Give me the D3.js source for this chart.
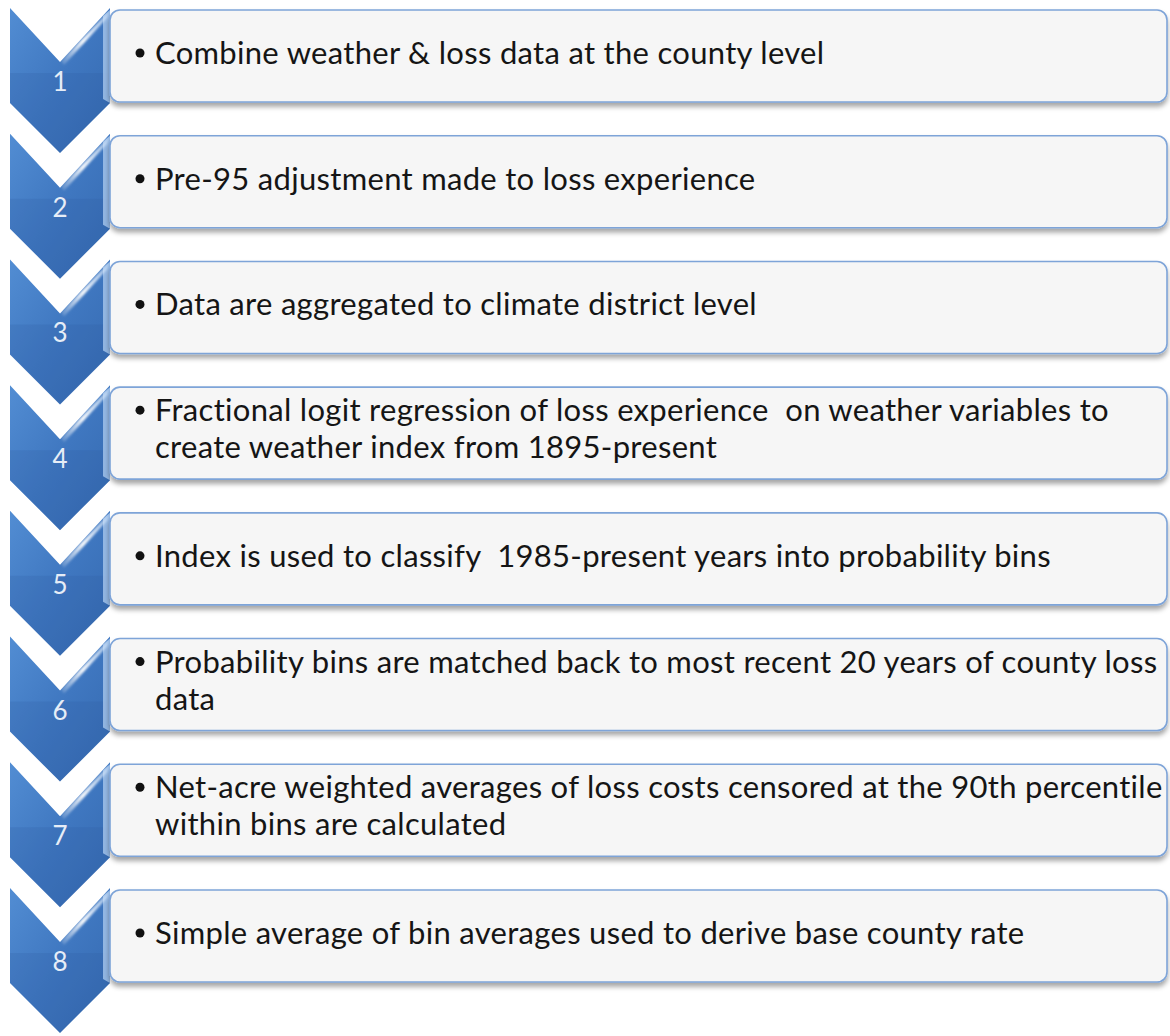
<!DOCTYPE html>
<html>
<head>
<meta charset="utf-8">
<script src="https://cdn.jsdelivr.net/npm/d3@7"></script>
<style>
  html, body { margin: 0; padding: 0; background: #fff; }
  svg { display: block; }
</style>
</head>
<body>
<div id="chart"></div>
<script>
// step numbers and the bullet text of each step (one entry per visual line)
const stepNumbers = ["1", "2", "3", "4", "5", "6", "7", "8"];
const stepLines = [
  ["Combine weather & loss data at the county level"],
  ["Pre-95 adjustment made to loss experience"],
  ["Data are aggregated to climate district level"],
  ["Fractional logit regression of loss experience  on weather variables to",
   "create weather index from 1895-present"],
  ["Index is used to classify  1985-present years into probability bins"],
  ["Probability bins are matched back to most recent 20 years of county loss",
   "data"],
  ["Net-acre weighted averages of loss costs censored at the 90th percentile",
   "within bins are calculated"],
  ["Simple average of bin averages used to derive base county rate"]
];

const width = 1170, height = 1036;

const svg = d3.select("#chart")
  .append("svg")
  .attr("width", width)
  .attr("height", height);

const defs = svg.append("defs");

// drop shadow under the text boxes
const shadow = defs.append("filter")
  .attr("id", "boxShadow")
  .attr("x", "-5%").attr("y", "-20%")
  .attr("width", "110%").attr("height", "150%");
shadow.append("feDropShadow")
  .attr("dx", 0).attr("dy", 4)
  .attr("stdDeviation", 2.5)
  .attr("flood-color", "#000")
  .attr("flood-opacity", 0.35);

// chevron body gradient
const bodyGrad = defs.append("linearGradient")
  .attr("id", "chevBody")
  .attr("x1", 0).attr("y1", 0).attr("x2", 1).attr("y2", 1);
bodyGrad.append("stop").attr("offset", "0%").attr("stop-color", "#528dd3");
bodyGrad.append("stop").attr("offset", "50%").attr("stop-color", "#3f77c0");
bodyGrad.append("stop").attr("offset", "100%").attr("stop-color", "#3468ae");

// bevel gleam along the notch
const gleam = defs.append("linearGradient")
  .attr("id", "gleam")
  .attr("x1", 0).attr("y1", 1).attr("x2", 1).attr("y2", 0);
gleam.append("stop").attr("offset", "0%").attr("stop-color", "#ffffff").attr("stop-opacity", 0.1);
gleam.append("stop").attr("offset", "45%").attr("stop-color", "#ffffff").attr("stop-opacity", 0.95);
gleam.append("stop").attr("offset", "100%").attr("stop-color", "#cfe3fa").attr("stop-opacity", 0.6);

const blur = defs.append("filter").attr("id", "soft");
blur.append("feGaussianBlur").attr("stdDeviation", 0.8);

// layout scales
const y = d3.scaleLinear().domain([0, stepNumbers.length - 1]).range([8, 888]);
const chevX = d3.scaleLinear().domain([0, 1]).range([10, 110]);
const chevMid = (chevX(0) + chevX(1)) / 2;
const notch = 54, side = 95, tip = 145;
const boxLeft = 110, boxRight = 1167, boxH = 92;
const fontSize = 31, lineH = 37;

const steps = stepNumbers.map((n, i) => ({ n, lines: stepLines[i], top: y(i) }));

// draw chevrons bottom-up so the upper ones sit above the lower ones
const chev = svg.append("g").selectAll("g")
  .data(steps.slice().reverse())
  .join("g")
  .attr("transform", d => `translate(0,${d.top})`);

chev.append("path")
  .attr("d", d3.line()([
    [chevX(0), 0], [chevMid, notch], [chevX(1), 0],
    [chevX(1), side], [chevMid, tip], [chevX(0), side]
  ]) + "Z")
  .attr("fill", "url(#chevBody)");

// darker lower half
chev.append("path")
  .attr("d", d3.line()([
    [chevX(0), side - 30], [chevX(1), side - 30], [chevX(1), side], [chevMid, tip], [chevX(0), side]
  ]) + "Z")
  .attr("fill", "#2d5c9e")
  .attr("opacity", 0.2);

// light strip along the right edge
chev.append("path")
  .attr("d", d3.line()([
    [chevX(1) - 7, 8], [chevX(1), 2], [chevX(1), side], [chevX(1) - 7, side - 4]
  ]) + "Z")
  .attr("fill", "#a9c8ee")
  .attr("opacity", 0.8);

// gleam along the inner notch edge
chev.append("path")
  .attr("d", d3.line()([
    [chevMid + 1, notch - 1], [chevX(1) - 1, 3], [chevX(1) - 3, 10], [chevMid + 4, notch + 3]
  ]) + "Z")
  .attr("fill", "url(#gleam)")
  .attr("filter", "url(#soft)");

chev.append("text")
  .attr("x", chevMid)
  .attr("y", 83)
  .attr("text-anchor", "middle")
  .attr("font-family", "Lato, 'Open Sans', sans-serif")
  .attr("font-size", 26)
  .attr("fill", "#e6edf7")
  .text(d => d.n);

// text boxes
const box = svg.append("g").selectAll("g")
  .data(steps)
  .join("g")
  .attr("transform", d => `translate(0,${d.top + 2})`);

box.append("rect")
  .attr("x", boxLeft)
  .attr("y", 0)
  .attr("width", boxRight - boxLeft)
  .attr("height", boxH)
  .attr("rx", 10)
  .attr("fill", "#f6f6f6")
  .attr("stroke", "#7ea4d8")
  .attr("stroke-width", 1.6)
  .attr("filter", "url(#boxShadow)");

box.append("circle")
  .attr("cx", 140)
  .attr("cy", d => (d.lines.length > 1 ? 23 : 43))
  .attr("r", 4.5)
  .attr("fill", "#111");

box.each(function(d) {
  const firstBase = d.lines.length > 1 ? 34 : 54;
  d3.select(this).selectAll("text.line")
    .data(d.lines)
    .join("text")
    .attr("class", "line")
    .attr("x", 155)
    .attr("y", (t, j) => firstBase + j * lineH)
    .attr("font-family", "Lato, 'Open Sans', sans-serif")
    .attr("font-size", fontSize)
    .attr("letter-spacing", 0.3)
    .attr("fill", "#151515")
    .style("white-space", "pre")
    .text(t => t);
});
</script>
</body>
</html>
